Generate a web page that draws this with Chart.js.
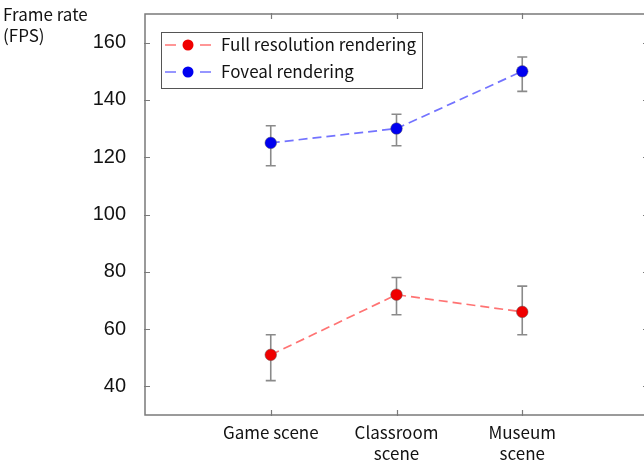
<!DOCTYPE html>
<html>
<head>
<meta charset="utf-8">
<script src="https://cdn.jsdelivr.net/npm/chart.js@4/dist/chart.umd.min.js"></script>
<style>
  html, body { margin: 0; padding: 0; background: #fff; overflow: hidden; }
  #wrap { width: 644px; height: 463px; overflow: hidden; }
  canvas { display: block; }
</style>
</head>
<body>
<div id="wrap"><canvas id="c" width="660" height="463"></canvas></div>
<script>
// Scenes (x positions 1..3) and their axis labels
const scenePositions = [1, 2, 3];
const sceneLabels = [['Game scene'], ['Classroom', 'scene'], ['Museum', 'scene']];

// Mean frame rate (FPS) per scene
const fullResMean = [51, 72, 66];
const fovealMean = [125, 130, 150];

// Error bar extents (FPS)
const fullResLow = [42, 65, 58];
const fullResHigh = [58, 78, 75];
const fovealLow = [117, 124, 143];
const fovealHigh = [131, 135, 155];

// Y axis tick values
const yTicks = [40, 60, 80, 100, 120, 140, 160];

const seriesNames = ['Full resolution rendering', 'Foveal rendering'];

const FONT = '"Noto Sans CJK KR", "Noto Sans", sans-serif';
const NUM_FONT = '"Liberation Sans", Arial, sans-serif';
const AXIS_COLOR = '#7a7a7a';
const TEXT_COLOR = '#121212';

const lineColors = ['rgba(255, 90, 90, 0.85)', 'rgba(90, 90, 255, 0.85)'];
const markerColors = ['#f00000', '#0000f0'];
const DASH = [9, 5];

const errorSets = [
  { low: fullResLow, high: fullResHigh },
  { low: fovealLow, high: fovealHigh }
];

function toPoints(xs, ys) { return xs.map((x, i) => ({ x, y: ys[i] })); }

// Frame box with inward ticks on all four sides, error bars, title and legend
const boxPlugin = {
  id: 'boxFrame',
  beforeDatasetsDraw(chart) {
    const { ctx, chartArea: a, scales } = chart;
    ctx.save();
    ctx.strokeStyle = AXIS_COLOR;
    ctx.lineWidth = 1.5;
    ctx.strokeRect(a.left, a.top, a.right - a.left, a.bottom - a.top);
    ctx.lineWidth = 1.2;
    ctx.beginPath();
    yTicks.forEach(v => {
      const y = Math.round(scales.y.getPixelForValue(v)) + 0.5;
      ctx.moveTo(a.left - 1, y); ctx.lineTo(a.left + 5, y);
      ctx.moveTo(a.right + 1, y); ctx.lineTo(a.right - 5, y);
    });
    scenePositions.forEach(v => {
      const x = Math.round(scales.x.getPixelForValue(v)) + 0.5;
      ctx.moveTo(x, a.bottom + 1); ctx.lineTo(x, a.bottom - 5);
      ctx.moveTo(x, a.top - 1); ctx.lineTo(x, a.top + 5);
    });
    ctx.stroke();

    // Error bars, drawn beneath the lines and markers
    ctx.strokeStyle = '#8a8a8a';
    ctx.lineWidth = 1.6;
    errorSets.forEach(set => {
      scenePositions.forEach((xv, i) => {
        const x = scales.x.getPixelForValue(xv);
        const yl = scales.y.getPixelForValue(set.low[i]);
        const yh = scales.y.getPixelForValue(set.high[i]);
        ctx.beginPath();
        ctx.moveTo(x, yl); ctx.lineTo(x, yh);
        ctx.moveTo(x - 5, yl); ctx.lineTo(x + 5, yl);
        ctx.moveTo(x - 5, yh); ctx.lineTo(x + 5, yh);
        ctx.stroke();
      });
    });
    ctx.restore();
  },
  afterDraw(chart) {
    const { ctx } = chart;
    ctx.save();
    // Y axis title
    ctx.fillStyle = TEXT_COLOR;
    ctx.font = '17px ' + FONT;
    ctx.textAlign = 'left';
    ctx.textBaseline = 'middle';
    ctx.fillText('Frame rate', 3, 15);
    ctx.fillText('(FPS)', 3, 36);

    // Legend box
    const lx = 161, ly = 32, lw = 261, lh = 56;
    ctx.fillStyle = '#fff';
    ctx.fillRect(lx, ly, lw, lh);
    ctx.strokeStyle = '#555';
    ctx.lineWidth = 1;
    ctx.strokeRect(lx + 0.5, ly + 0.5, lw, lh);
    const rows = [45, 72];
    seriesNames.forEach((name, i) => {
      const y = rows[i];
      ctx.strokeStyle = lineColors[i];
      ctx.lineWidth = 1.6;
      ctx.setLineDash([]);
      ctx.beginPath();
      ctx.moveTo(165, y); ctx.lineTo(176, y);
      ctx.moveTo(200, y); ctx.lineTo(211, y);
      ctx.stroke();
      ctx.beginPath();
      ctx.arc(188, y, 5.5, 0, Math.PI * 2);
      ctx.fillStyle = markerColors[i];
      ctx.fill();
      ctx.fillStyle = TEXT_COLOR;
      ctx.font = '17px ' + FONT;
      ctx.textBaseline = 'middle';
      ctx.fillText(name, 221, y);
    });
    ctx.restore();
  }
};

const datasets = [fullResMean, fovealMean].map((vals, i) => ({
  label: seriesNames[i],
  data: toPoints(scenePositions, vals),
  borderColor: lineColors[i],
  borderWidth: 1.7,
  borderDash: DASH,
  backgroundColor: markerColors[i],
  pointBackgroundColor: markerColors[i],
  pointBorderColor: 'rgba(90,90,90,0.6)',
  pointBorderWidth: 0.8,
  pointRadius: 5.8,
  pointHoverRadius: 5.8,
  tension: 0,
  fill: false
}));

new Chart(document.getElementById('c'), {
  type: 'line',
  data: { datasets },
  options: {
    responsive: false,
    animation: false,
    events: [],
    layout: { padding: { top: 14, right: 12, left: 0, bottom: 0 } },
    plugins: { legend: { display: false }, tooltip: { enabled: false } },
    scales: {
      x: {
        type: 'linear',
        min: 0,
        max: 4,
        grid: { display: false },
        border: { display: false },
        afterBuildTicks(scale) { scale.ticks = scenePositions.map(v => ({ value: v })); },
        afterFit(scale) {
          scale.height = 48;
          scale.paddingLeft = 0; scale.paddingRight = 0;
          scale.paddingTop = 0; scale.paddingBottom = 0;
        },
        ticks: {
          autoSkip: false,
          maxRotation: 0,
          padding: -1,
          color: TEXT_COLOR,
          font: { family: FONT, size: 17, lineHeight: 1.25 },
          callback(value) {
            const i = scenePositions.indexOf(value);
            return i >= 0 ? sceneLabels[i] : '';
          }
        }
      },
      y: {
        min: 30,
        max: 170,
        grid: { display: false },
        border: { display: false },
        afterBuildTicks(scale) { scale.ticks = yTicks.map(v => ({ value: v })); },
        afterFit(scale) {
          scale.width = 145;
          scale.paddingLeft = 0; scale.paddingRight = 0;
          scale.paddingTop = 0; scale.paddingBottom = 0;
        },
        ticks: {
          padding: 11,
          color: TEXT_COLOR,
          font: { family: NUM_FONT, size: 20 }
        }
      }
    }
  },
  plugins: [boxPlugin]
});
</script>
</body>
</html>
